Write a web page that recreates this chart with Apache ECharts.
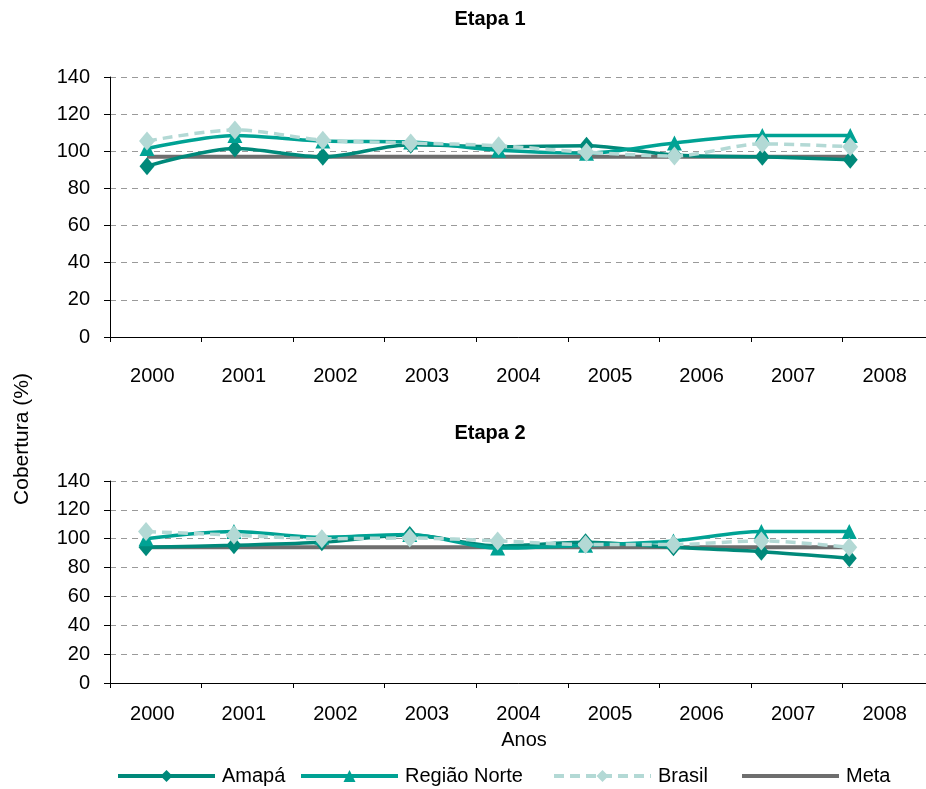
<!DOCTYPE html>
<html>
<head>
<meta charset="utf-8">
<script src="https://cdn.jsdelivr.net/npm/echarts@6/dist/echarts.min.js"></script>
<style>html,body{margin:0;padding:0;background:#fff}#c{width:926px;height:789px}</style>
</head>
<body>
<div id="c"></div>
<script>
const years = ['2000','2001','2002','2003','2004','2005','2006','2007','2008'];
const yTicks = [0, 20, 40, 60, 80, 100, 120, 140];

// Etapa 1
const amapa1  = [92, 101.5, 97, 103.5, 102.5, 103, 98, 97, 95.5];
const norte1  = [101.5, 108.5, 105.5, 105, 100.5, 99, 104.5, 108.5, 108.5];
const brasil1 = [105.5, 111.5, 106, 104.5, 103, 99.5, 97.5, 104, 102.5];
const meta1   = [97, 97, 97, 97, 97, 97, 97, 97, 97];

// Etapa 2
const amapa2  = [94, 95.5, 97.5, 102.5, 95, 97.5, 94, 91, 86.5];
const norte2  = [100, 105, 101, 103, 93.5, 95.5, 98.5, 105, 105];
const brasil2 = [105, 102.5, 100, 100.5, 98.5, 96, 96, 98.5, 94];
const meta2   = [94, 94, 94, 94, 94, 94, 94, 94, 94];

const C_AMAPA = '#00897a', C_NORTE = '#00a294', C_BRASIL = '#b3d9d5', C_META = '#6e6e6e';
const FONT = 'Liberation Sans, Arial, sans-serif';

function pts(arr){ return arr.map((v,i)=>[i, v]); }

const grids = [
  {left: 110, top: 77, width: 824, height: 260, outerBoundsMode:'none', containLabel:false},
  {left: 110, top: 481, width: 824, height: 202, outerBoundsMode:'none', containLabel:false}
];

function catAxis(g, margin){
  return {type:'category', gridIndex:g, data:years, boundaryGap:true,
    axisLine:{show:true, onZero:false, lineStyle:{color:'#000', width:1}},
    axisTick:{show:true, length:5, lineStyle:{color:'#000'}},
    axisLabel:{color:'#000', fontSize:20, fontFamily:FONT, margin:margin, padding:[0,7,0,0]},
    splitLine:{show:false}};
}
function hidAxis(g, mn, mx){
  return {type:'value', gridIndex:g, show:false, min:mn, max:mx,
    axisLine:{onZero:false}, splitLine:{show:false}};
}
function valAxis(g){
  return {type:'value', gridIndex:g, min:yTicks[0], max:yTicks[yTicks.length-1], interval:20,
    axisLine:{show:true, onZero:false, lineStyle:{color:'#000', width:1}},
    axisTick:{show:true, length:6, lineStyle:{color:'#000'}},
    axisLabel:{color:'#000', fontSize:20, fontFamily:FONT, margin:20},
    splitLine:{show:true, lineStyle:{color:'#9a9a9a', type:[6,5], width:1}}};
}

function panelSeries(g, am, no, br, me){
  const x = g*2+1;
  return [
    {name:'Meta', type:'line', xAxisIndex:x, yAxisIndex:g, data:pts(me), symbol:'none',
      lineStyle:{color:C_META, width:4}, itemStyle:{color:C_META}, z:2},
    {name:'Amapá', type:'line', xAxisIndex:x, yAxisIndex:g, data:pts(am), smooth:0.3,
      symbol:'diamond', symbolSize:[15,18], lineStyle:{color:C_AMAPA, width:3.5}, itemStyle:{color:C_AMAPA}, z:3},
    {name:'Região Norte', type:'line', xAxisIndex:x, yAxisIndex:g, data:pts(no), smooth:0.3,
      symbol:'triangle', symbolSize:[15,15], lineStyle:{color:C_NORTE, width:3.5}, itemStyle:{color:C_NORTE}, z:4},
    {name:'Brasil', type:'line', xAxisIndex:x, yAxisIndex:g, data:pts(br), smooth:0.3,
      symbol:'diamond', symbolSize:[16,19], lineStyle:{color:C_BRASIL, width:3.5, type:[10,6]}, itemStyle:{color:C_BRASIL}, z:5}
  ];
}

function leg(item, left){
  return {data:[item], left:left, top:766, padding:0, itemWidth:97, itemHeight:15, itemGap:0,
    lineStyle:{width:4},
    textStyle:{color:'#000', fontSize:20, fontFamily:FONT, padding:[0,0,0,2]}, selectedMode:false};
}

const chart = echarts.init(document.getElementById('c'), null, {renderer:'canvas'});
chart.setOption({
  backgroundColor:'#fff',
  animation:false,
  title:[
    {text:'Etapa 1', left:485, top:4, textAlign:'center', textStyle:{fontSize:20, fontWeight:'bold', fontFamily:FONT, color:'#000'}},
    {text:'Etapa 2', left:485, top:418, textAlign:'center', textStyle:{fontSize:20, fontWeight:'bold', fontFamily:FONT, color:'#000'}}
  ],
  graphic:[
    {type:'text', x:22, y:439, rotation:Math.PI/2, style:{text:'Cobertura (%)', x:0, y:0, fontSize:21, fontFamily:FONT, fill:'#000', align:'center', verticalAlign:'middle'}},
    {type:'text', x:524, y:740, style:{text:'Anos', x:0, y:0, fontSize:20, fontFamily:FONT, fill:'#000', align:'center', verticalAlign:'middle'}}
  ],
  legend:[leg('Amapá',116), leg('Região Norte',299), leg('Brasil',552), leg({name:'Meta', itemStyle:{opacity:0}},740)],
  grid:grids,
  xAxis:[catAxis(0, 29), hidAxis(0, -0.421, 8.953), catAxis(1, 21), hidAxis(1, -0.41, 8.964)],
  yAxis:[valAxis(0), valAxis(1)],
  series:[...panelSeries(0, amapa1, norte1, brasil1, meta1), ...panelSeries(1, amapa2, norte2, brasil2, meta2)]
});
</script>
</body>
</html>
